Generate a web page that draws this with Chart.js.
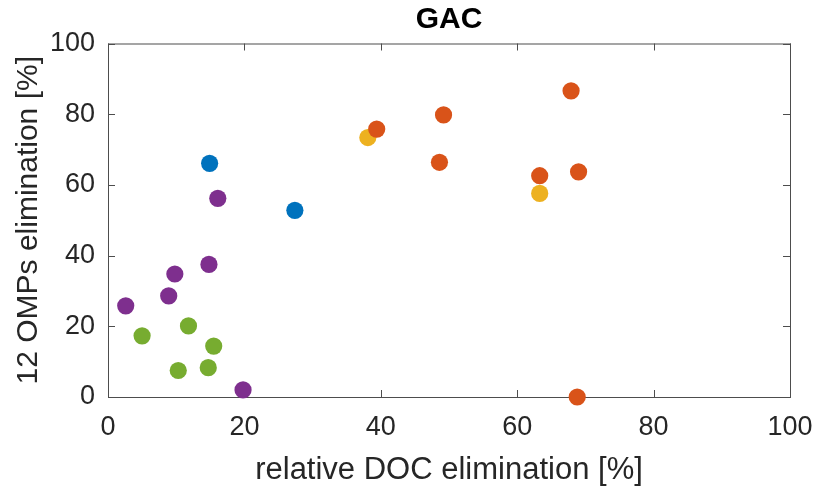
<!DOCTYPE html>
<html>
<head>
<meta charset="utf-8">
<script src="https://cdn.jsdelivr.net/npm/chart.js@4/dist/chart.umd.min.js"></script>
<style>
  body { margin: 0; background: #fff; }
  #chart-gac { display: block; }
</style>
</head>
<body>
<canvas id="chart-gac" width="818" height="487"></canvas>
<script>
//=================================================================
// DATA
//=================================================================
const tickValues = [0, 20, 40, 60, 80, 100];

const blueX = [14.9, 27.4];
const blueY = [66.1, 52.8];

const orangeX = [39.4, 49.2, 48.6, 67.9, 63.3, 69.0, 68.8];
const orangeY = [75.8, 79.8, 66.4, 86.6, 62.6, 63.7, 0];

const yellowX = [38.1, 63.3];
const yellowY = [73.4, 57.6];

const purpleX = [2.6, 8.9, 9.8, 14.8, 16.1, 19.8];
const purpleY = [25.8, 28.6, 34.8, 37.5, 56.2, 2.0];

const greenX = [5.0, 11.8, 15.5, 10.3, 14.7];
const greenY = [17.3, 20.1, 14.4, 7.5, 8.3];

const toPoints = (xs, ys) => xs.map((x, i) => ({ x: x, y: ys[i] }));

const textColor = '#262626';
const fontFamily = '"Liberation Sans", Arial, Helvetica, sans-serif';

function group(xs, ys, color) {
    return {
        data: toPoints(xs, ys),
        backgroundColor: color,
        borderWidth: 0,
        pointRadius: 8.6,
        pointHoverRadius: 8.6,
        clip: false
    };
}

//=================================================================
// BOX + INWARD TICKS (MATLAB style)
//=================================================================
const boxPlugin = {
    id: 'boxTicks',
    beforeDatasetsDraw(chart) {
        const { ctx, chartArea: a, scales: { x, y } } = chart;
        const len = 7;
        ctx.save();
        ctx.strokeStyle = '#4d4d4d';
        ctx.lineWidth = 1;
        ctx.strokeRect(a.left + 0.5, a.top + 0.5, a.right - a.left, a.bottom - a.top);
        ctx.beginPath();
        tickValues.forEach(v => {
            const px = Math.round(x.getPixelForValue(v)) + 0.5;
            ctx.moveTo(px, a.bottom); ctx.lineTo(px, a.bottom - len);
            ctx.moveTo(px, a.top); ctx.lineTo(px, a.top + len);
            const py = Math.round(y.getPixelForValue(v)) + 0.5;
            ctx.moveTo(a.left, py); ctx.lineTo(a.left + len, py);
            ctx.moveTo(a.right, py); ctx.lineTo(a.right - len, py);
        });
        ctx.stroke();
        ctx.restore();
    }
};

//=================================================================
// CHART
//=================================================================
const chartGac = document.getElementById('chart-gac');

new Chart(chartGac, {
    type: 'scatter',
    data: {
        datasets: [
            group(blueX, blueY, '#0072BD'),
            group(orangeX, orangeY, '#D95319'),
            group(yellowX, yellowY, '#EDB120'),
            group(purpleX, purpleY, '#7E2F8E'),
            group(greenX, greenY, '#77AC30')
        ]
    },
    options: {
        responsive: false,
        animation: false,
        layout: { padding: { left: 0, right: 28, top: 0, bottom: 0 } },
        plugins: {
            legend: { display: false },
            tooltip: { enabled: false },
            title: {
                display: true,
                fullSize: false,
                text: 'GAC',
                color: '#000',
                font: { family: fontFamily, size: 30, weight: 'bold', lineHeight: 1 },
                padding: { top: 5, bottom: 8.5 }
            }
        },
        scales: {
            x: {
                type: 'linear',
                min: 0,
                max: 100,
                afterBuildTicks: s => { s.ticks = tickValues.map(v => ({ value: v })); },
                afterFit: s => { s.height = 90; s.paddingLeft = 0; s.paddingRight = 0; },
                grid: { display: false, drawTicks: false },
                border: { display: false },
                ticks: {
                    color: textColor,
                    padding: 14,
                    maxRotation: 0,
                    font: { family: fontFamily, size: 27 }
                },
                title: {
                    display: true,
                    text: 'relative DOC elimination [%]',
                    color: textColor,
                    font: { family: fontFamily, size: 31, lineHeight: 1 },
                    padding: { top: 0, bottom: 1 }
                }
            },
            y: {
                type: 'linear',
                min: 0,
                max: 100,
                afterBuildTicks: s => { s.ticks = tickValues.map(v => ({ value: v })); },
                afterFit: s => { s.width = 108; s.paddingTop = 0; s.paddingBottom = 0; },
                grid: { display: false, drawTicks: false },
                border: { display: false },
                ticks: {
                    color: textColor,
                    padding: 13,
                    font: { family: fontFamily, size: 27 }
                },
                title: {
                    display: true,
                    text: '12 OMPs elimination [%]',
                    color: textColor,
                    font: { family: fontFamily, size: 30, lineHeight: 1 },
                    padding: { top: 13.5, bottom: 0 }
                }
            }
        }
    },
    plugins: [boxPlugin]
});
</script>
</body>
</html>
